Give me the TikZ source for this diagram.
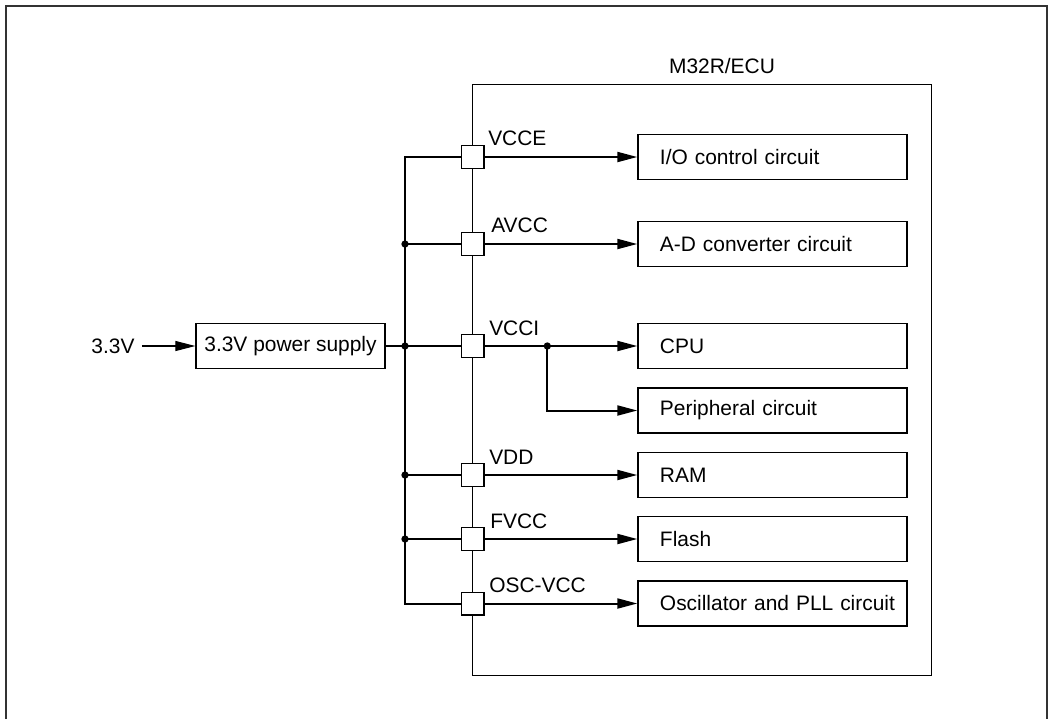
\documentclass[tikz,border=0pt]{standalone}
\usepackage{fontspec}
\setmainfont{Liberation Sans}
\usetikzlibrary{arrows.meta}
\begin{document}
\begin{tikzpicture}[x=0.75pt,y=-0.75pt,
  every node/.style={font=\fontsize{15.7}{19}\selectfont},
  frame/.style={line width=1.3pt,draw=black!80},
  wire/.style={line width=1.5pt},
  thinwire/.style={line width=0.8pt},
  tip/.style={-{Triangle[length=15pt,width=7.5pt]}},
  blockbox/.style={draw,line width=1pt,minimum width=201.75pt,minimum height=33.75pt,
     text width=168.75pt,align=left,inner xsep=16.5pt,anchor=west},
  pin/.style={draw,fill=white,line width=1pt,minimum size=17pt,inner sep=0pt},
  pinlabel/.style={anchor=base west,inner sep=0pt},
  dot/.style={circle,fill=black,inner sep=0pt,minimum size=5.5pt}]
\useasboundingbox (0,0) rectangle (1049,719);
% outer frame
\draw[frame] (6,719) -- (6,6) -- (1047,6) -- (1047,719);
% ECU container
\node[draw,line width=1pt,minimum width=344.25pt,minimum height=443.5pt,inner sep=0pt] (ecu) at (702.2,380) {};
\node (ecuname) at (722,66) {M32R/ECU};
% pins
\node[pin] (pVCCE) at (472.7,157) {};
\node[pin] (pAVCC) at (472.7,244) {};
\node[pin] (pVCCI) at (472.7,346) {};
\node[pin] (pVDD) at (472.7,475) {};
\node[pin] (pFVCC) at (472.7,539) {};
\node[pin] (pOSC) at (472.7,603.5) {};
% pin labels
\node[pinlabel] (lVCCE) at (488,145.5) {VCCE};
\node[pinlabel] (lAVCC) at (491,232.5) {AVCC};
\node[pinlabel] (lVCCI) at (489,335) {VCCI};
\node[pinlabel] (lVDD) at (489,464) {VDD};
\node[pinlabel] (lFVCC) at (490,528) {FVCC};
\node[pinlabel] (lOSC) at (489,592) {OSC-VCC};
% blocks
\node[blockbox] (bIO) at (637.3,157) {I/O control circuit};
\node[blockbox] (bAD) at (637.3,244) {A-D converter circuit};
\node[blockbox] (bCPU) at (637.3,346) {CPU};
\node[blockbox] (bPER) at (637.3,410.5) {Peripheral circuit};
\node[blockbox] (bRAM) at (637.3,475) {RAM};
\node[blockbox] (bFL) at (637.3,539) {Flash};
\node[blockbox] (bOSC) at (637.3,603.5) {\makebox[168.75pt][l]{Oscillator and PLL circuit}};
% supply
\node (vin) at (113,346) {3.3V};
\node[draw,line width=1pt,minimum width=141.75pt,minimum height=34pt,inner sep=0pt] (sup) at (290.5,346) {3.3V power supply};
\draw[thinwire,tip] (vin.east) ++(2pt,0) -- (sup.west);
% bus
\coordinate (bAVCCj) at (405,244);
\coordinate (bVCCIj) at (405,346);
\coordinate (bVDDj) at (405,475);
\coordinate (bFVCCj) at (405,539);
\coordinate (bBot) at (405,603.5);
\draw[wire] (pVCCE.west) -| (bBot) -- (pOSC.west);
\draw[wire] (sup.east) -- (bVCCIj) -- (pVCCI.west);
\draw[wire] (bAVCCj) -- (pAVCC.west);
\draw[wire] (bVDDj) -- (pVDD.west);
\draw[wire] (bFVCCj) -- (pFVCC.west);
\node[dot] at (bAVCCj) {};
\node[dot] at (bVCCIj) {};
\node[dot] at (bVDDj) {};
\node[dot] at (bFVCCj) {};
% pin to block arrows
\coordinate (jCPU) at (547.3,346);
\draw[wire,tip] (pVCCE.east) -- (bIO.west);
\draw[wire,tip] (pAVCC.east) -- (bAD.west);
\draw[wire,tip] (pVCCI.east) -- (bCPU.west);
\draw[wire,tip] (jCPU) |- (bPER.west);
\node[dot] at (jCPU) {};
\draw[wire,tip] (pVDD.east) -- (bRAM.west);
\draw[wire,tip] (pFVCC.east) -- (bFL.west);
\draw[wire,tip] (pOSC.east) -- (bOSC.west);
\end{tikzpicture}
\end{document}
